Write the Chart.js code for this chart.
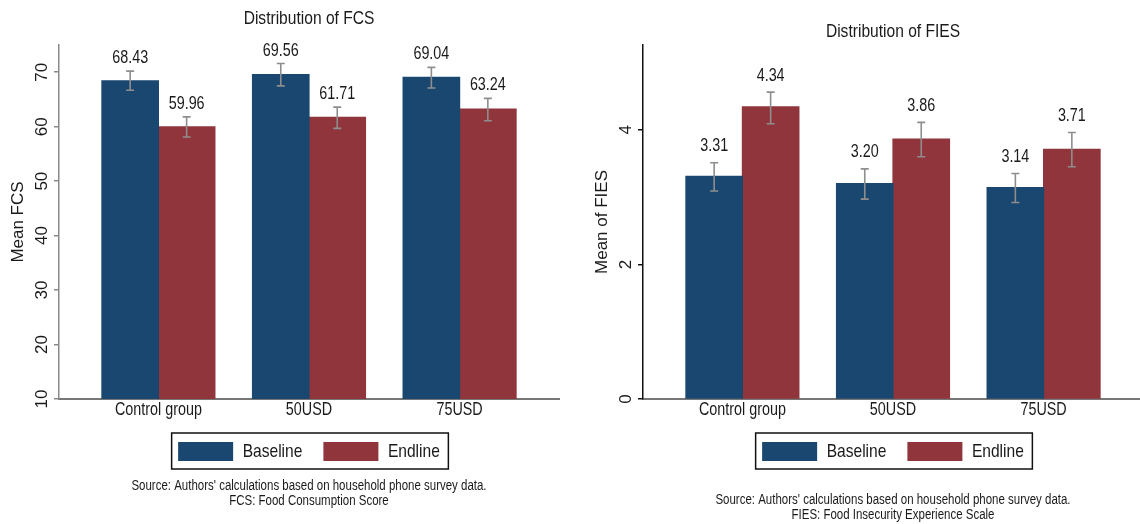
<!DOCTYPE html>
<html>
<head>
<meta charset="utf-8">
<script src="https://cdn.jsdelivr.net/npm/chart.js@4.4.1/dist/chart.umd.min.js"></script>
<style>
  html, body { margin: 0; padding: 0; background: #fff; width: 1140px; height: 524px; overflow: hidden; position: relative; }
  .panel { position: absolute; top: 0; width: 570px; height: 524px; }
  #panelFcs { left: 0; }
  #panelFies { left: 584px; }
</style>
</head>
<body>
<div class="panel" id="panelFcs"><canvas id="fcs" width="570" height="524"></canvas></div>
<div class="panel" id="panelFies"><canvas id="fies" width="570" height="524"></canvas></div>
<script>
// Groups and series
const categories = ['Control group', '50USD', '75USD'];
const seriesNames = ['Baseline', 'Endline'];

// Food Consumption Score: means and 95% confidence bounds
const fcsBaseline = [68.43, 69.56, 69.04];
const fcsEndline = [59.96, 61.71, 63.24];
const fcsBaselineLow = [66.7, 67.5, 67.1];
const fcsBaselineHigh = [70.2, 71.6, 70.9];
const fcsEndlineLow = [58.1, 59.7, 61.1];
const fcsEndlineHigh = [61.8, 63.6, 65.2];
const fcsTicks = [10, 20, 30, 40, 50, 60, 70];

// Food Insecurity Experience Scale: means and 95% confidence bounds
const fiesBaseline = [3.31, 3.20, 3.14];
const fiesEndline = [4.34, 3.86, 3.71];
const fiesBaselineLow = [3.09, 2.97, 2.92];
const fiesBaselineHigh = [3.51, 3.42, 3.35];
const fiesEndlineLow = [4.09, 3.60, 3.45];
const fiesEndlineHigh = [4.56, 4.11, 3.96];
const fiesTicks = [0, 2, 4];

const sourceNote = "Source: Authors' calculations based on household phone survey data.";

const FONT = "'Liberation Sans', Arial, sans-serif";
const TEXT = '#1a1a1a';
const BASE_COLOR = '#1a476f';
const END_COLOR = '#90353b';
const NARROW = 0.82;   // horizontal condensing applied to upright text

// Upright text is drawn horizontally condensed (a narrow sans look);
// rotated axis text keeps its natural proportions.
function condenseText(canvas, factor) {
  const ctx = canvas.getContext('2d');
  const fill = ctx.fillText.bind(ctx);
  const measure = ctx.measureText.bind(ctx);
  ctx.fillText = function (text, x, y, maxWidth) {
    const m = ctx.getTransform();
    if (Math.abs(m.b) > 1e-6 || Math.abs(m.c) > 1e-6) {
      return maxWidth === undefined ? fill(text, x, y) : fill(text, x, y, maxWidth);
    }
    ctx.save();
    ctx.translate(x, y);
    ctx.scale(factor, 1);
    if (maxWidth === undefined) fill(text, 0, 0); else fill(text, 0, 0, maxWidth / factor);
    ctx.restore();
  };
  ctx.measureText = function (text) {
    const m = measure(text);
    return {
      width: m.width * factor,
      actualBoundingBoxLeft: m.actualBoundingBoxLeft * factor,
      actualBoundingBoxRight: m.actualBoundingBoxRight * factor,
      actualBoundingBoxAscent: m.actualBoundingBoxAscent,
      actualBoundingBoxDescent: m.actualBoundingBoxDescent,
      fontBoundingBoxAscent: m.fontBoundingBoxAscent,
      fontBoundingBoxDescent: m.fontBoundingBoxDescent
    };
  };
}

// Confidence-interval whiskers plus the mean printed above each whisker
const errorBarsAndLabels = {
  id: 'errorBarsAndLabels',
  afterDatasetsDraw(chart, args, opts) {
    const ctx = chart.ctx;
    const yScale = chart.scales.y;
    chart.data.datasets.forEach((ds, di) => {
      const meta = chart.getDatasetMeta(di);
      meta.data.forEach((bar, i) => {
        const lo = yScale.getPixelForValue(ds.ciLow[i]);
        const hi = yScale.getPixelForValue(ds.ciHigh[i]);
        const cap = 4;
        ctx.save();
        ctx.strokeStyle = '#8e8e8e';
        ctx.lineWidth = 1.6;
        ctx.beginPath();
        ctx.moveTo(bar.x, lo); ctx.lineTo(bar.x, hi);
        ctx.moveTo(bar.x - cap, hi); ctx.lineTo(bar.x + cap, hi);
        ctx.moveTo(bar.x - cap, lo); ctx.lineTo(bar.x + cap, lo);
        ctx.stroke();
        ctx.fillStyle = TEXT;
        ctx.font = '17.5px ' + FONT;
        ctx.textAlign = 'center';
        ctx.textBaseline = 'alphabetic';
        ctx.fillText(ds.data[i].y.toFixed(2), bar.x, hi - opts.gap);
        ctx.restore();
      });
    });
  }
};

// Thin frame around the legend entries
const legendFrame = {
  id: 'legendFrame',
  afterDraw(chart) {
    const lg = chart.legend;
    const hb = lg && lg.legendHitBoxes;
    if (!hb || !hb.length) return;
    const last = hb[hb.length - 1];
    const left = hb[0].left - 6.5;
    const right = last.left + last.width + 8.5;
    const top = hb[0].top - 9;
    const bottom = hb[0].top + hb[0].height + 8;
    const ctx = chart.ctx;
    ctx.save();
    ctx.strokeStyle = '#111';
    ctx.lineWidth = 1.5;
    ctx.strokeRect(left, top, right - left, bottom - top);
    ctx.restore();
  }
};

function toPoints(values) {
  return values.map((v, i) => ({ x: i, y: v }));
}

function makeChart(id, o) {
  const canvas = document.getElementById(id);
  condenseText(canvas, NARROW);
  return new Chart(canvas, {
    type: 'bar',
    data: {
      datasets: [
        { label: seriesNames[0], data: toPoints(o.base), ciLow: o.baseLow, ciHigh: o.baseHigh,
          backgroundColor: BASE_COLOR, borderWidth: 0, inflateAmount: 0.6 },
        { label: seriesNames[1], data: toPoints(o.end), ciLow: o.endLow, ciHigh: o.endHigh,
          backgroundColor: END_COLOR, borderWidth: 0, inflateAmount: 0.6 }
      ]
    },
    options: {
      responsive: false,
      devicePixelRatio: 1,
      animation: false,
      events: [],
      layout: { padding: { left: 0, right: 11, top: 0, bottom: 0 } },
      datasets: { bar: { categoryPercentage: 0.75, barPercentage: 1 } },
      scales: {
        x: {
          type: 'linear',
          offset: false,
          min: -0.66,
          max: 2.66,
          afterBuildTicks: s => { s.ticks = categories.map((_, i) => ({ value: i })); },
          afterFit: s => { s.height = 22; },
          ticks: {
            callback: v => categories[v] ?? '',
            font: { family: FONT, size: 17.5 },
            color: TEXT,
            padding: 1,
            maxRotation: 0,
            autoSkip: false
          },
          grid: { display: false, drawTicks: false, tickLength: 0 },
          border: { display: true, color: '#777', width: 2 }
        },
        y: {
          min: o.yMin,
          max: o.yMax,
          afterBuildTicks: s => { s.ticks = o.ticks.map(v => ({ value: v })); },
          afterFit: s => { s.width = 59; },
          ticks: {
            minRotation: 90,
            maxRotation: 90,
            crossAlign: 'center',
            padding: o.tickPad,
            font: { family: FONT, size: 17 },
            color: TEXT,
            callback: v => String(v)
          },
          grid: { drawOnChartArea: false, drawTicks: true, tickLength: 5, color: o.yColor, lineWidth: 1.5 },
          border: { display: true, color: o.yColor, width: 1.5 },
          title: {
            display: true,
            text: o.yTitle,
            font: { family: FONT, size: 17 },
            color: TEXT,
            padding: { top: 8, bottom: 0 }
          }
        }
      },
      plugins: {
        title: {
          display: true,
          text: o.title,
          fullSize: false,
          color: TEXT,
          font: { family: FONT, size: 19, lineHeight: 1.2, weight: 'normal' },
          padding: o.titlePad
        },
        subtitle: {
          display: true,
          position: 'bottom',
          fullSize: false,
          text: [sourceNote, o.note],
          color: TEXT,
          font: { family: FONT, size: 14, lineHeight: 15 / 14 },
          padding: o.notePad
        },
        legend: {
          display: true,
          position: 'bottom',
          fullSize: false,
          labels: {
            boxWidth: 55,
            boxHeight: 19,
            padding: 21,
            color: TEXT,
            font: { family: FONT, size: 19 }
          }
        },
        tooltip: { enabled: false },
        errorBarsAndLabels: { gap: o.labelGap }
      }
    },
    plugins: [errorBarsAndLabels, legendFrame]
  });
}

makeChart('fcs', {
  base: fcsBaseline, baseLow: fcsBaselineLow, baseHigh: fcsBaselineHigh,
  end: fcsEndline, endLow: fcsEndlineLow, endHigh: fcsEndlineHigh,
  yMin: 10, yMax: 75, ticks: fcsTicks, tickPad: 4.25, yColor: '#8a8a8a',
  yTitle: 'Mean FCS',
  title: 'Distribution of FCS', titlePad: { top: 7.6, bottom: 14.6 },
  note: 'FCS: Food Consumption Score', notePad: { top: 7.5, bottom: 15.5 },
  labelGap: 8
});

makeChart('fies', {
  base: fiesBaseline, baseLow: fiesBaselineLow, baseHigh: fiesBaselineHigh,
  end: fiesEndline, endLow: fiesEndlineLow, endHigh: fiesEndlineHigh,
  yMin: 0, yMax: 5.26, ticks: fiesTicks, tickPad: 8.1, yColor: '#111',
  yTitle: 'Mean of FIES',
  title: 'Distribution of FIES', titlePad: { top: 20.6, bottom: 1.6 },
  note: 'FIES: Food Insecurity Experience Scale', notePad: { top: 22, bottom: 1 },
  labelGap: 11.5
});
</script>
</body>
</html>
